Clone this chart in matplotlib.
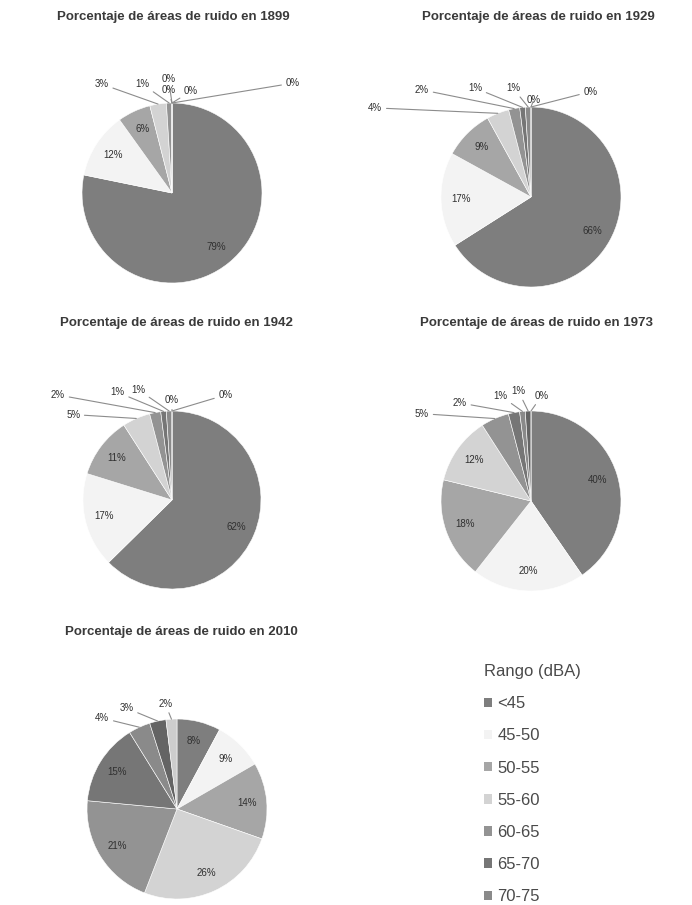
import matplotlib.pyplot as plt
import numpy as np
from matplotlib.patches import Patch

plt.rcParams['font.family'] = ['Liberation Sans', 'DejaVu Sans']

# rangos de ruido (los dos ultimos no se ven en la leyenda recortada)
rangos = ['<45', '45-50', '50-55', '55-60', '60-65', '65-70', '70-75', '75-80', '80-85']
colores = ['#7e7e7e', '#f3f3f3', '#a6a6a6', '#d3d3d3', '#939393',
           '#767676', '#8a8a8a', '#646464', '#cdcdcd']

anios = ['1899', '1929', '1942', '1973', '2010']
v1899 = [79, 12, 6, 3, 1, 0, 0, 0, 0]
v1929 = [66, 17, 9, 4, 2, 1, 1, 0, 0]
v1942 = [62, 17, 11, 5, 2, 1, 1, 0, 0]
v1973 = [40, 20, 18, 12, 5, 2, 1, 1, 0]
v2010 = [8, 9, 14, 26, 21, 15, 4, 3, 2]
valores = [v1899, v1929, v1942, v1973, v2010]

W, H = 692, 905
# centro y radio de cada torta (pixeles)
centros = [(172, 193, 90), (531, 197, 90), (172, 500, 89), (531, 501, 90), (177, 809, 90)]
titulos_xy = [(173, 17), (538, 17), (176, 323), (537, 323), (181, 632)]

# posicion de las etiquetas externas (en radios) para las rebanadas chicas
externas = {
    '1899': [(-0.78, 1.21), (-0.33, 1.21), (-0.04, 1.27), (-0.04, 1.14), (0.21, 1.13), (1.34, 1.22)],
    '1929': [(-1.73, 0.99), (-1.21, 1.19), (-0.62, 1.21), (-0.2, 1.21), (0.03, 1.08), (0.66, 1.17)],
    '1942': [(-1.11, 0.96), (-1.28, 1.18), (-0.61, 1.21), (-0.38, 1.24), (0.0, 1.12), (0.6, 1.18)],
    '1973': [(-1.21, 0.97), (-0.79, 1.09), (-0.34, 1.17), (-0.14, 1.22), (0.12, 1.17)],
    '2010': [(-0.83, 1.01), (-0.56, 1.12), (-0.13, 1.17)],
}

fig = plt.figure(figsize=(W / 100, H / 100), dpi=100)
fig.patch.set_facecolor('white')

for anio, vals, (cx, cy, r), (tx, ty) in zip(anios, valores, centros, titulos_xy):
    m = 1.6
    ax = fig.add_axes([(cx - m * r) / W, 1 - (cy + m * r) / H, 2 * m * r / W, 2 * m * r / H])
    wedges, _ = ax.pie(vals, colors=colores, startangle=90, counterclock=False,
                       radius=1, wedgeprops=dict(edgecolor='white', linewidth=0.4))
    ax.set_xlim(-m, m)
    ax.set_ylim(-m, m)
    ax.set_aspect('auto')
    ax.axis('off')

    k = 0
    for w, v in zip(wedges, vals):
        ang = np.deg2rad((w.theta1 + w.theta2) / 2)
        if v > 5 or (v > 4 and anio == '1899'):
            ax.text(0.78 * np.cos(ang), 0.78 * np.sin(ang), f'{v}%',
                    ha='center', va='center', fontsize=7, color='#303030')
        else:
            if k >= len(externas[anio]):
                continue
            lx, ly = externas[anio][k]
            k += 1
            ax.annotate(f'{v}%', xy=(np.cos(ang), np.sin(ang)), xytext=(lx, ly),
                        ha='center', va='center', fontsize=7, color='#303030',
                        arrowprops=dict(arrowstyle='-', color='#8c8c8c', lw=0.8,
                                        shrinkA=1, shrinkB=0))

    fig.text(tx / W, 1 - ty / H, f'Porcentaje de áreas de ruido en {anio}',
             ha='center', va='center', fontsize=9.5, fontweight='bold', color='#3a3a3a')

# leyenda (solo se ven los primeros siete rangos)
handles = [Patch(facecolor=c, edgecolor='none') for c in colores[:7]]
fig.legend(handles, rangos[:7], title='Rango (dBA)', loc='upper left',
           bbox_to_anchor=(469 / W, 1 - 649 / H), frameon=False,
           fontsize=12, title_fontsize=12, handlelength=0.5, handleheight=0.5,
           handletextpad=0.3, labelspacing=1.03, labelcolor='#4a4a4a',
           alignment='left')
leg = fig.legends[0]
leg.get_title().set_color('#4a4a4a')

fig.savefig('out.png', dpi=100)
